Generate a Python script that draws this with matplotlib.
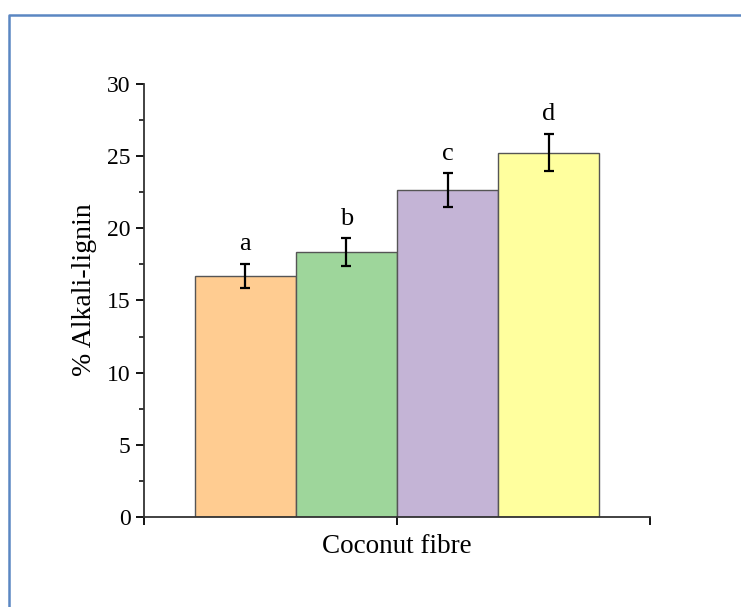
import matplotlib.pyplot as plt
from matplotlib.lines import Line2D
from matplotlib.ticker import MultipleLocator

plt.rcParams['font.family'] = ['Liberation Serif', 'DejaVu Serif']

groups = ['a', 'b', 'c', 'd']
values = [16.7, 18.35, 22.65, 25.25]
errors = [0.85, 0.95, 1.15, 1.3]
colors = ['#FFCC91', '#9ED69B', '#C4B4D6', '#FFFF9E']
positions = [1, 2, 3, 4]

fig = plt.figure(figsize=(7.41, 6.07), dpi=100)
ax = fig.add_axes([0.1943, 0.1483, 0.6827, 0.7133])

ax.bar(positions, values, width=1.0, color=colors, edgecolor='#555555', linewidth=1.0,
       yerr=errors, error_kw=dict(ecolor='black', elinewidth=1.6, capsize=3.5, capthick=1.6))

for x, v, e, g in zip(positions, values, errors, groups):
    ax.annotate(g, (x, v + e), xytext=(0, 6), textcoords='offset points',
                ha='center', va='bottom', fontsize=19)

ax.set_xlim(0, 5)
ax.set_ylim(0, 30)
ax.set_xticks([0, 2.5, 5])
ax.set_xticklabels([])
ax.yaxis.set_major_locator(MultipleLocator(5))
ax.yaxis.set_minor_locator(MultipleLocator(2.5))
ax.tick_params(axis='both', which='major', direction='out', length=6, width=1.3, labelsize=17)
ax.tick_params(axis='y', which='minor', direction='out', length=3.5, width=1.1)
ax.tick_params(axis='x', which='major', pad=2)

for side in ['top', 'right']:
    ax.spines[side].set_visible(False)
for side in ['left', 'bottom']:
    ax.spines[side].set_linewidth(1.3)
    ax.spines[side].set_color('#333333')

ax.set_ylabel('% Alkali-lignin', fontsize=20)
ax.yaxis.set_label_coords(-0.092, 0.525)
ax.set_xlabel('Coconut fibre', fontsize=19.5, labelpad=4)

# blue border of the source figure
fig.add_artist(Line2D([8.5 / 741, 8.5 / 741, 1.0], [0.0, 1 - 14.5 / 607, 1 - 14.5 / 607],
                      transform=fig.transFigure, color='#5B87C2', linewidth=1.8))

fig.savefig('out.png', dpi=100)
